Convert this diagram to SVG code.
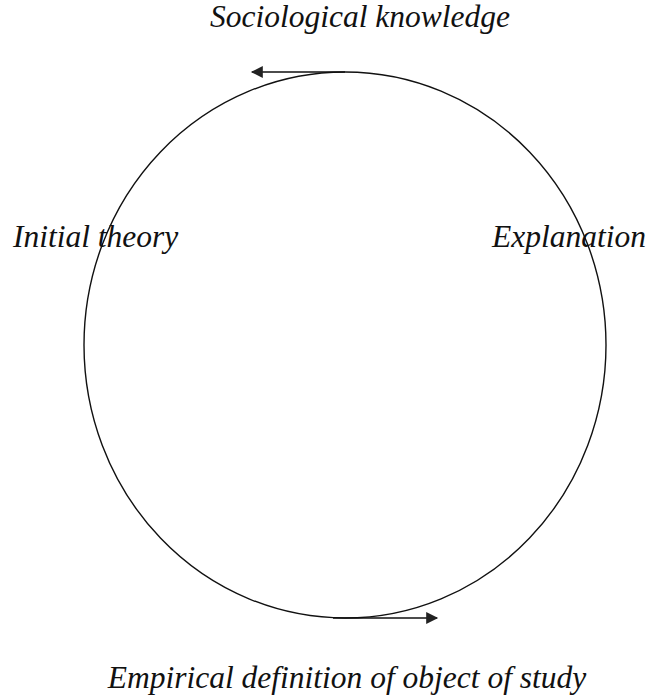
<svg xmlns="http://www.w3.org/2000/svg" width="648" height="696" viewBox="0 0 648 696">
<style>
.lbl{font-family:"Liberation Serif","Times New Roman",serif;font-style:italic;font-size:31.5px;fill:#111}
.ln{fill:none;stroke:#111;stroke-width:1.4}
</style>
<defs>
<marker id="ah" viewBox="0 0 10 10" refX="9" refY="5" markerWidth="14" markerHeight="12" markerUnits="userSpaceOnUse" orient="auto">
<path d="M0,0 L10,5 L0,10 z" fill="#222"/>
</marker>
</defs>
<rect width="648" height="696" fill="#fff"/>
<g id="cycle">
<ellipse class="ln" cx="345" cy="345" rx="261" ry="273"/>
</g>
<g id="connectors">
<line class="ln" x1="345" y1="72" x2="252" y2="72" marker-end="url(#ah)"/>
<line class="ln" x1="333" y1="618" x2="437" y2="618" marker-end="url(#ah)"/>
</g>
<g id="n-knowledge"><text class="lbl" x="210" y="27">Sociological knowledge</text></g>
<g id="n-theory"><text class="lbl" x="13" y="247">Initial theory</text></g>
<g id="n-explanation"><text class="lbl" x="492" y="247">Explanation</text></g>
<g id="n-empirical"><text class="lbl" x="347" y="688" text-anchor="middle">Empirical definition of object of study</text></g>
</svg>
